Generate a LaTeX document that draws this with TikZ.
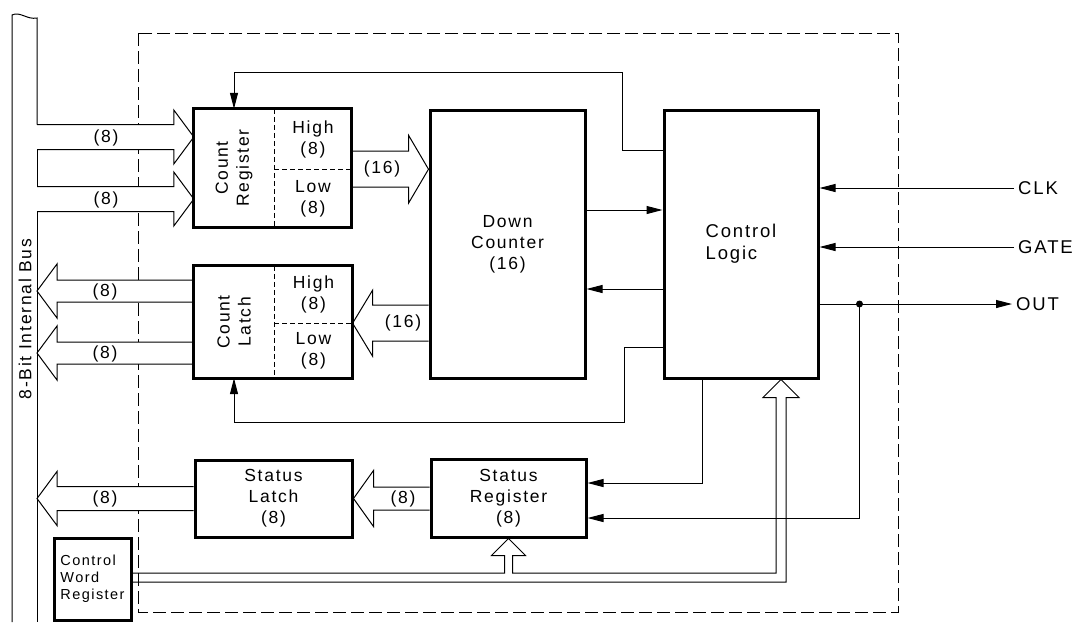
\documentclass[tikz,border=0pt]{standalone}
\usepackage{fontspec}
\setmainfont{Liberation Sans}[LetterSpace=10]
\usetikzlibrary{arrows.meta,calc,backgrounds}

% hollow bus arrow: #1 shaft half width, #2 head half width, #3 tail (x used), #4 tip
\newcommand\fatarrow[4]{%
  \draw[fatline] let \p1=#3, \p2=#4, \n1={20*sign(\x2-\x1)} in
    (\x1,{\y2+#1pt}) -- ({\x2-\n1*1pt},{\y2+#1pt}) -- ({\x2-\n1*1pt},{\y2+#2pt})
    -- (\p2) -- ({\x2-\n1*1pt},{\y2-#2pt}) -- ({\x2-\n1*1pt},{\y2-#1pt}) -- (\x1,{\y2-#1pt});}

\begin{document}
\begin{tikzpicture}[x=1pt,y=-1pt,
    font=\fontsize{17.5}{21}\selectfont,
    block/.style={draw, line width=3pt, fill=white, inner sep=0pt, align=center},
    part/.style={fill=white, inner sep=0pt, align=center},
    sig/.style={line width=1pt, -{Triangle[length=16pt,width=8pt]}},
    fatline/.style={draw, fill=white, line width=1pt},
    wire/.style={line width=1pt},
    split/.style={line width=1pt, dash pattern=on 5pt off 3pt},
    frame/.style={line width=1pt, dash pattern=on 13pt off 5pt}]
  \useasboundingbox (0,0) rectangle (1081,622);

  % internal bus
  \coordinate (busR) at (37,0);
  \draw[wire] (12,622) -- (12,15) .. controls (20,11) and (27,20) .. (37,18) -- (37,124.5);
  \draw[wire] (37,149.5) -- (37,186.5);
  \draw[wire] (37,211.5) -- (37,622);
  \node[rotate=90] (buslabel) at (25,319) {8-Bit Internal Bus};

  % count register
  \node[part, minimum width=80pt, minimum height=118pt] (creg) at (234,168) {};
  \node[part, anchor=north west, minimum width=77pt, minimum height=60pt] (cregH) at (creg.north east) {High\\(8)};
  \node[part, anchor=north west, minimum width=77pt, minimum height=58pt] (cregL) at (cregH.south west) {Low\\(8)};
  \node[rotate=90, align=center] (cregtext) at (creg) {Count\\Register};
  \draw[line width=3pt] (creg.north west) rectangle (cregL.south east);
  \draw[split] (creg.north east) -- (creg.south east);
  \draw[split] (cregH.south west) -- (cregH.south east);

  % count latch
  \node[part, minimum width=80pt, minimum height=112pt] (clat) at (234,322) {};
  \node[part, anchor=north west, minimum width=78pt, minimum height=57pt] (clatH) at (clat.north east) {High\\(8)};
  \node[part, anchor=north west, minimum width=78pt, minimum height=55pt] (clatL) at (clatH.south west) {Low\\(8)};
  \node[rotate=90, align=center] (clattext) at (clat) {Count\\Latch};
  \draw[line width=3pt] (clat.north west) rectangle (clatL.south east);
  \draw[split] (clat.north east) -- (clat.south east);
  \draw[split] (clatH.south west) -- (clatH.south east);

  % other blocks
  \node[block, minimum width=155pt, minimum height=268pt] (dcnt) at (507.5,244) {Down\\Counter\\(16)};
  \node[block, minimum width=154pt, minimum height=268pt, align=left,
        font=\fontsize{18.5}{22}\selectfont] (ctrl) at (741,244) {Control\\Logic};
  \node[block, minimum width=157pt, minimum height=77pt] (slat) at (273.5,498.5) {Status\\Latch\\(8)};
  \node[block, minimum width=155pt, minimum height=78pt] (sreg) at (508.5,498) {Status\\Register\\(8)};
  \node[block, minimum width=77pt, minimum height=82pt, align=left,
        font=\fontsize{14.5}{17}\selectfont] (cwr) at (92.5,579) {Control\\Word\\Register};

  % external signals
  \node[anchor=west, inner sep=4pt, font=\fontsize{18.5}{22}\selectfont] (clk) at (1014,188) {CLK};
  \node[anchor=west, inner sep=4pt, font=\fontsize{18.5}{22}\selectfont] (gate) at (1014,247) {GATE};
  \node[anchor=west, inner sep=4pt, font=\fontsize{18.5}{22}\selectfont] (outsig) at (1012,304) {OUT};
  \draw[sig] (clk.west) -- (clk.west -| ctrl.east);
  \draw[sig] (gate.west) -- (gate.west -| ctrl.east);
  \draw[sig] (outsig.west -| ctrl.east) -- (outsig.west);
  \coordinate (tap) at ([xshift=40pt]outsig.west -| ctrl.east);
  \fill (tap) circle (3.5pt);

  % control lines
  \draw[sig] ([yshift=34pt]dcnt.east) -- ([yshift=34pt]ctrl.west);
  \draw[sig] ([yshift=-45pt]ctrl.west) -- ([yshift=-45pt]dcnt.east);
  \draw[sig] ([yshift=94pt]ctrl.west) -- ++(-40,0) |- ([yshift=36pt]creg.north) -- (creg.north);
  \draw[sig] ([yshift=-103pt]ctrl.west) -- ++(-38,0) |- ([yshift=-44pt]clat.south) -- (clat.south);
  \draw[sig] ([xshift=-39pt]ctrl.south) |- ([yshift=15pt]sreg.east);
  \draw[sig] (tap) |- ([yshift=-20pt]sreg.east);

  % control word bus
  \draw[wire] let \p1=(sreg.south), \p2=([xshift=40pt]ctrl.south),
                  \p3=([yshift=6pt]cwr.east), \p4=([yshift=-3pt]cwr.east) in
    (\p3) -- ({\x1-4pt},\y3) -- ({\x1-4pt},{\y1-17pt}) -- ({\x1-17pt},{\y1-17pt}) -- (\p1)
    -- ({\x1+17pt},{\y1-17pt}) -- ({\x1+4pt},{\y1-17pt}) -- ({\x1+4pt},\y3)
    -- ({\x2-5pt},\y3) -- ({\x2-5pt},{\y2-18pt}) -- ({\x2-18pt},{\y2-18pt}) -- (\p2)
    -- ({\x2+18pt},{\y2-18pt}) -- ({\x2+5pt},{\y2-18pt}) -- ({\x2+5pt},\y4) -- (\p4);

  % bus arrows
  \coordinate (in1) at ([yshift=31pt]creg.west);
  \coordinate (in2) at ([yshift=-31pt]creg.west);
  \coordinate (out1) at ([yshift=31pt]clat.west);
  \coordinate (out2) at ([yshift=-31pt]clat.west);
  \begin{pgfonlayer}{background}
    \draw[frame] (138,33) rectangle (898,612);
    \fatarrow{12.5}{27}{(busR)}{(in1)}
    \fatarrow{12.5}{27}{(busR)}{(in2)}
    \fatarrow{11}{27}{(clat.west)}{(busR |- out1)}
    \fatarrow{11}{27}{(clat.west)}{(busR |- out2)}
    \fatarrow{18}{34}{(cregH.east)}{(dcnt.west |- cregH.south)}
    \fatarrow{18}{33}{(dcnt.west)}{(clatH.south east)}
    \fatarrow{11.5}{28}{(sreg.west)}{(slat.east)}
    \fatarrow{12}{27}{(slat.west)}{(busR |- slat.west)}
  \end{pgfonlayer}

  % widths
  \node (w1) at (106,138) {(8)};
  \node (w2) at (106,200) {(8)};
  \node (w3) at (105,292) {(8)};
  \node (w4) at (105,354) {(8)};
  \node (w5) at (105,499) {(8)};
  \node (w6) at (403,499) {(8)};
  \node (w7) at (382,169) {(16)};
  \node (w8) at (403,323) {(16)};
\end{tikzpicture}
\end{document}
